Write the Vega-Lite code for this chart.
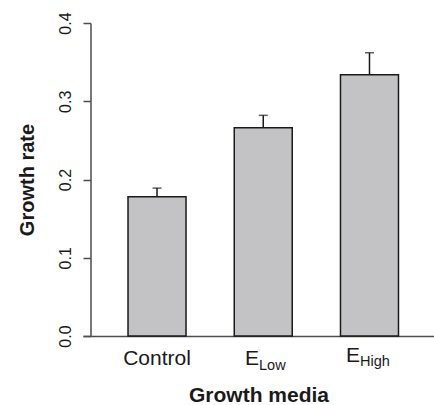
{
  "$schema": "https://vega.github.io/schema/vega-lite/v6.json",
  "width": 351,
  "height": 313,
  "autosize": {"type": "none"},
  "padding": {"left": 83, "top": 23, "right": 0, "bottom": 69},
  "background": "white",
  "config": {"view": {"stroke": null}, "font": "Liberation Sans"},
  "data": {
    "values": [
      {"media": "Control", "label": "Control", "sub": "", "rate": 0.178, "upper": 0.189},
      {"media": "E_Low", "label": "E", "sub": "Low", "rate": 0.266, "upper": 0.282},
      {"media": "E_High", "label": "E", "sub": "High", "rate": 0.334, "upper": 0.362}
    ]
  },
  "encoding": {
    "x": {
      "field": "media",
      "type": "nominal",
      "sort": null,
      "scale": {"paddingInner": 0.454, "paddingOuter": 0.379, "align": 0.559},
      "axis": {
        "title": "Growth media",
        "labels": false,
        "ticks": false,
        "domain": true,
        "domainColor": "#4d4d4d",
        "domainWidth": 1.5,
        "titleFontSize": 21,
        "titleFontWeight": "bold",
        "titleColor": "#1a1a1a",
        "titlePadding": 48
      }
    }
  },
  "layer": [
    {
      "mark": {"type": "bar", "fill": "#c3c3c5", "stroke": "#1a1a1a", "strokeWidth": 1.5},
      "encoding": {
        "y": {
          "field": "rate",
          "type": "quantitative",
          "scale": {"domain": [0, 0.4], "nice": false},
          "axis": {
            "title": "Growth rate",
            "values": [0, 0.1, 0.2, 0.3, 0.4],
            "format": ".1f",
            "grid": false,
            "offset": -7.5,
            "tickSize": 7.5,
            "domainColor": "#4d4d4d",
            "domainWidth": 1.5,
            "tickColor": "#4d4d4d",
            "tickWidth": 1.5,
            "labelAngle": -90,
            "labelAlign": "center",
            "labelBaseline": "alphabetic",
            "labelPadding": 13,
            "labelFontSize": 16,
            "labelColor": "#1a1a1a",
            "titleFontSize": 20,
            "titleFontWeight": "bold",
            "titleColor": "#1a1a1a",
            "titleBaseline": "alphabetic",
            "titlePadding": 24
          }
        }
      }
    },
    {
      "mark": {"type": "rule", "color": "#1a1a1a", "strokeWidth": 1.5},
      "encoding": {
        "y": {"field": "rate", "type": "quantitative"},
        "y2": {"field": "upper"}
      }
    },
    {
      "mark": {"type": "tick", "color": "#1a1a1a", "thickness": 1.5, "size": 9},
      "encoding": {
        "y": {"field": "upper", "type": "quantitative"}
      }
    },
    {
      "transform": [{"filter": "datum.media == 'Control'"}],
      "mark": {"type": "text", "align": "center", "baseline": "alphabetic", "dy": 29, "fontSize": 21, "color": "#1a1a1a"},
      "encoding": {
        "y": {"datum": 0, "type": "quantitative"},
        "text": {"field": "label"}
      }
    },
    {
      "transform": [{"filter": "datum.media == 'E_Low'"}],
      "mark": {"type": "text", "align": "right", "baseline": "alphabetic", "dx": -4.25, "dy": 29, "fontSize": 21, "color": "#1a1a1a"},
      "encoding": {
        "y": {"datum": 0, "type": "quantitative"},
        "text": {"field": "label"}
      }
    },
    {
      "transform": [{"filter": "datum.media == 'E_Low'"}],
      "mark": {"type": "text", "align": "left", "baseline": "alphabetic", "dx": -4.25, "dy": 34, "fontSize": 14.5, "color": "#1a1a1a"},
      "encoding": {
        "y": {"datum": 0, "type": "quantitative"},
        "text": {"field": "sub"}
      }
    },
    {
      "transform": [{"filter": "datum.media == 'E_High'"}],
      "mark": {"type": "text", "align": "right", "baseline": "alphabetic", "dx": -9.5, "dy": 26, "fontSize": 21, "color": "#1a1a1a"},
      "encoding": {
        "y": {"datum": 0, "type": "quantitative"},
        "text": {"field": "label"}
      }
    },
    {
      "transform": [{"filter": "datum.media == 'E_High'"}],
      "mark": {"type": "text", "align": "left", "baseline": "alphabetic", "dx": -9.5, "dy": 30, "fontSize": 14.5, "color": "#1a1a1a"},
      "encoding": {
        "y": {"datum": 0, "type": "quantitative"},
        "text": {"field": "sub"}
      }
    }
  ]
}
